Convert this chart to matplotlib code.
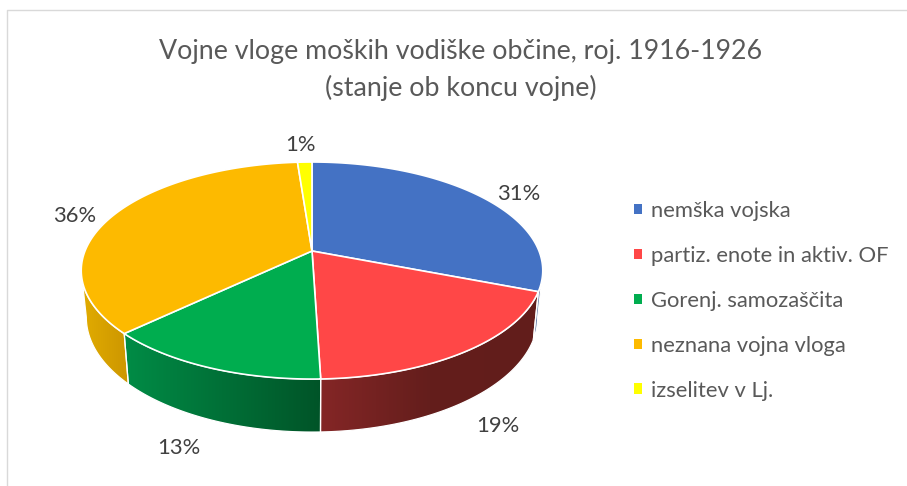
import numpy as np
import matplotlib
matplotlib.use("Agg")
import matplotlib.pyplot as plt
from matplotlib.patches import Polygon, Patch
from matplotlib.lines import Line2D

# ---- data ----
categories = ["nemška vojska", "partiz. enote in aktiv. OF", "Gorenj. samozaščita",
              "neznana vojna vloga", "izselitev v Lj."]
shares = [30.9, 18.6, 13.4, 35.9, 1.2]
title_lines = ["Vojne vloge moških vodiške občine, roj. 1916-1926", "(stanje ob koncu vojne)"]

# ---- style ----
top_colors = ["#4472C4", "#FF4747", "#00AD4F", "#FDBA00", "#FFFF00"]
side_stops = [[(110, 132, 172), (110, 132, 172)],
              [(132, 38, 38), (100, 30, 28), (98, 29, 27)],
              [(0, 140, 70), (0, 84, 40)],
              [(226, 172, 0), (204, 150, 0)],
              [(200, 200, 0), (200, 200, 0)]]
label_pos = [(519, 193.5), (498, 425.5), (179, 447.5), (74.5, 215.5), (300, 144.5)]
FONT = "Lato"
FS_PX = 22.0
LABEL_PX = 22.0
TITLE_PX = 26.8

# projection of the tilted disc
CX, CY, A, B, K = 312, 251, 227, 105, 0.18


def top_xy(theta):
    u, v = np.sin(theta), np.cos(theta)
    d = 1 + K * v
    return CX + A * u / d, CY - B * v / d


def low_xy(theta):
    x, y = top_xy(theta)
    return CX + 0.978 * (x - CX), 1.057 * y + 31.4


fig = plt.figure(figsize=(9.07, 4.86), dpi=100, facecolor="white")
ax = fig.add_axes([0, 0, 1, 1])
ax.set_xlim(0, 907)
ax.set_ylim(486, 0)
ax.axis("off")

# chart frame
ax.add_line(Line2D([7, 7, 907], [486, 10, 10], color="#D9D9D9", lw=1.0, zorder=1))

edges = np.deg2rad(np.concatenate([[0], np.cumsum(shares)]) * 3.6)
FRONT = np.arccos(-K), 2 * np.pi - np.arccos(-K)

for i in range(len(shares)):
    t0, t1 = edges[i], edges[i + 1]
    # rim (visible front part only)
    s0, s1 = max(t0, FRONT[0]), min(t1, FRONT[1])
    if s1 > s0:
        th = np.linspace(s0, s1, 120)
        ux, uy = top_xy(th)
        lx, ly = low_xy(th)
        pts = np.r_[np.c_[ux, uy], np.c_[lx, ly][::-1]]
        x0, x1 = pts[:, 0].min(), pts[:, 0].max()
        y0, y1 = pts[:, 1].min(), pts[:, 1].max()
        stops = np.array(side_stops[i], float) / 255
        pos = np.linspace(0, 1, len(stops))
        g = np.linspace(0, 1, 256)
        grad = np.stack([np.interp(g, pos, stops[:, c]) for c in range(3)], axis=-1)[None, :, :]
        im = ax.imshow(grad, extent=(x0, x1, y1, y0), aspect="auto", zorder=2, interpolation="bilinear")
        clip = Polygon(pts, closed=True, transform=ax.transData)
        im.set_clip_path(clip)
        ax.add_patch(Polygon(pts, closed=True, fc="none", ec="white", lw=0.9, zorder=3))

for i in range(len(shares)):
    th = np.linspace(edges[i], edges[i + 1], 200)
    x, y = top_xy(th)
    pts = np.r_[[[CX, CY]], np.c_[x, y]]
    ax.add_patch(Polygon(pts, closed=True, fc=top_colors[i], ec="white", lw=1.2,
                         joinstyle="round", zorder=4))

ax.set_xlim(0, 907)
ax.set_ylim(486, 0)

# data labels
for share, (lx, ly) in zip(shares, label_pos):
    ax.text(lx, ly, f"{round(share):d}%", ha="center", va="center", family=FONT,
            fontsize=LABEL_PX * 0.72, color="#404040", zorder=5)

# title
for line, yy in zip(title_lines, (51, 88)):
    ax.text(461, yy, line, ha="center", va="center", family=FONT,
            fontsize=TITLE_PX * 0.72, color="#595959", zorder=5)

# legend
fs = FS_PX * 0.72
px = FS_PX
handles = [Patch(fc=c, ec="none") for c in top_colors]
leg = ax.legend(handles, categories, loc="upper left", bbox_to_anchor=(634 / 907, 1 - 201 / 486),
                frameon=False, prop={"family": FONT, "size": fs}, labelcolor="#595959",
                handlelength=8 / px, handleheight=8 / px, handletextpad=9 / px,
                labelspacing=(45 - 20.1) / px, borderpad=0, borderaxespad=0)

fig.savefig("out.png", dpi=100, facecolor="white")
